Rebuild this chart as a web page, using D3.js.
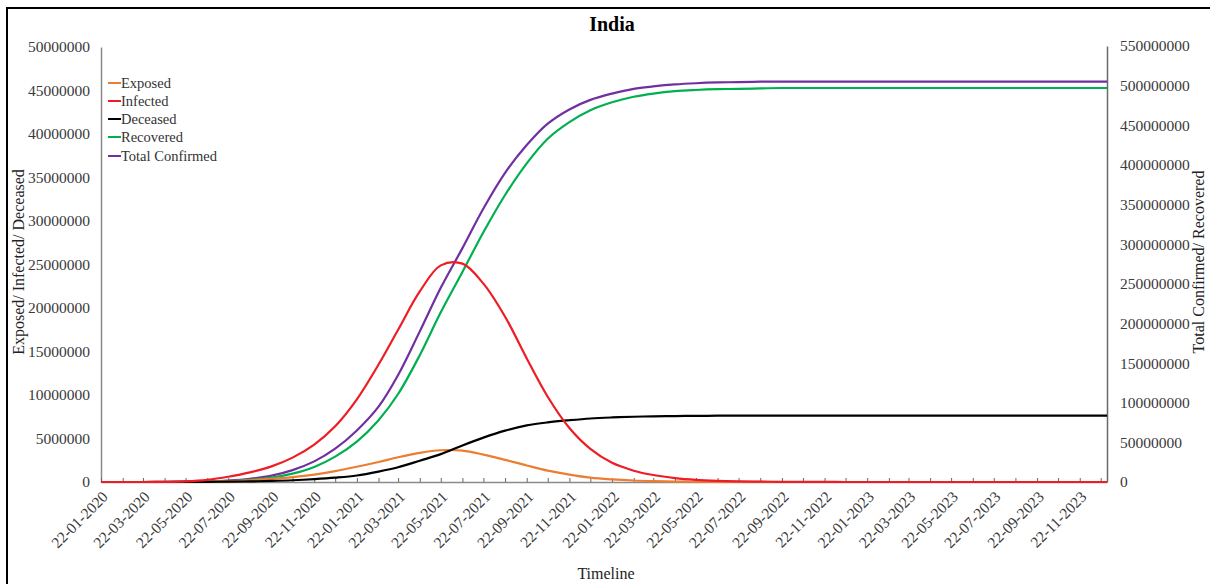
<!DOCTYPE html>
<html>
<head>
<meta charset="utf-8">
<script src="https://cdn.jsdelivr.net/npm/d3@7"></script>
<style>
  html, body { margin: 0; padding: 0; background: #fff; }
  svg text { font-family: "Liberation Serif", "Times New Roman", serif; }
</style>
</head>
<body>
<svg id="chart" width="1210" height="584"></svg>
<script>
// ---- data (values in millions) ----
const dates = [
  "2020-01-22","2020-02-22","2020-03-22","2020-04-22","2020-05-22","2020-06-22",
  "2020-07-22","2020-08-22","2020-09-22","2020-10-22","2020-11-22","2020-12-22",
  "2021-01-22","2021-02-22","2021-03-22","2021-04-22","2021-05-22","2021-06-22",
  "2021-07-22","2021-08-22","2021-09-22","2021-10-22","2021-11-22","2021-12-22",
  "2022-01-22","2022-02-22","2022-03-22","2022-04-22","2022-05-22","2022-06-22",
  "2022-07-22","2022-08-22","2022-09-22","2022-10-22","2022-11-22","2022-12-22",
  "2023-01-22","2023-02-22","2023-03-22","2023-04-22","2023-05-22","2023-06-22",
  "2023-07-22","2023-08-22","2023-09-22","2023-10-22","2023-11-22","2023-12-22",
  "2023-12-31"
];
const exposed = [
  0,0,0,0.01,0.02,0.05,0.1,0.2,0.35,0.55,0.85,1.25,
  1.75,2.3,2.85,3.35,3.65,3.6,3.15,2.55,1.9,1.3,0.85,0.5,
  0.3,0.17,0.1,0.05,0.03,0.02,0.01,0.01,0,0,0,0,
  0,0,0,0,0,0,0,0,0,0,0,0,0
];
const infected = [
  0,0,0,0.02,0.08,0.25,0.6,1.1,1.8,2.8,4.3,6.4,
  9.5,13.5,17.5,21.9,24.9,25.1,22.8,19.0,14.2,9.8,6.2,3.8,
  2.2,1.3,0.8,0.45,0.25,0.14,0.08,0.04,0.02,0.01,0.01,0,
  0,0,0,0,0,0,0,0,0,0,0,0,0
];
const deceased = [
  0,0,0,0,0.01,0.02,0.04,0.07,0.12,0.2,0.33,0.5,
  0.75,1.2,1.7,2.45,3.2,4.2,5.1,5.9,6.5,6.85,7.1,7.3,
  7.42,7.5,7.55,7.58,7.6,7.62,7.63,7.63,7.63,7.63,7.63,7.63,
  7.63,7.63,7.63,7.63,7.63,7.63,7.63,7.63,7.63,7.63,7.63,7.63,7.63
];
const recovered = [
  0,0,0,0,0.1,0.6,1.3,2.8,5.5,10.5,19,32,
  51,78,111,160,214,265,315,362,402,433,454,469,
  479,486,490,493,494.5,495.5,496,496.5,497,497,497,497,
  497,497,497,497,497,497,497,497,497,497,497,497,497
];
const confirmed = [
  0,0,0,0.1,0.3,0.8,1.8,4,8,15,26,42,
  65,95,135,190,245,295,345,390,425,452,470,482,
  490,496,499,501.5,503,504,504.5,505,505,505,505,505,
  505,505,505,505,505,505,505,505,505,505,505,505,505
];
const leftTicks = [0,5e6,10e6,15e6,20e6,25e6,30e6,35e6,40e6,45e6,50e6];
const rightTicks = [0,50e6,100e6,150e6,200e6,250e6,300e6,350e6,400e6,450e6,500e6,550e6];
const seriesNames = ["Exposed","Infected","Deceased","Recovered","Total Confirmed"];
const seriesColors = ["#ED7D31","#EE1C25","#000000","#00B050","#7030A0"];

// ---- layout ----
const svg = d3.select("#chart");
const parse = d3.timeParse("%Y-%m-%d");
const fmt = d3.timeFormat("%d-%m-%Y");
const D = dates.map(parse);

const x = d3.scaleTime().domain([D[0], D[D.length-1]]).range([101, 1107]);
const yL = d3.scaleLinear().domain([0, 50e6]).range([482, 47]);
const yR = d3.scaleLinear().domain([0, 550e6]).range([482, 46]);

// outer border (right and bottom edges fall outside the picture)
svg.append("rect").attr("x",7).attr("y",8).attr("width",1220).attr("height",600)
  .attr("fill","none").attr("stroke","#000").attr("stroke-width",2);

// title
svg.append("text").attr("x",612).attr("y",31).attr("text-anchor","middle")
  .attr("font-size",20).attr("font-weight","bold").attr("fill","#000").text("India");

// left axis
const gL = svg.append("g").attr("transform","translate(101,0)")
  .call(d3.axisLeft(yL).tickValues(leftTicks).tickFormat(d3.format("d")).tickSize(0).tickPadding(11));
gL.select(".domain").attr("stroke","#8a8a8a").attr("stroke-width",1.5);
gL.selectAll("text").attr("font-size",15.5).attr("fill","#3a3a3a")
  .style("font-family","'Liberation Serif', serif");

// right axis
const gR = svg.append("g").attr("transform","translate(1107,0)")
  .call(d3.axisRight(yR).tickValues(rightTicks).tickFormat(d3.format("d")).tickSize(0).tickPadding(13));
gR.select(".domain").attr("stroke","#6a6a6a").attr("stroke-width",1.5);
gR.selectAll("text").attr("font-size",15.5).attr("fill","#3a3a3a")
  .style("font-family","'Liberation Serif', serif");

// bottom axis with monthly ticks pointing inside
const gX = svg.append("g").attr("transform","translate(0,482)")
  .call(d3.axisBottom(x).tickValues(D.slice(0, D.length-1)).tickSizeInner(-4).tickSizeOuter(0).tickFormat(""));
gX.select(".domain").attr("stroke","#8a8a8a").attr("stroke-width",1.5);
gX.selectAll(".tick line").attr("stroke","#666").attr("stroke-width",1);

// rotated date labels every two months
const labelDates = D.slice(0, D.length-1).filter((d,i) => i % 2 === 0);
svg.append("g").selectAll("text").data(labelDates).join("text")
  .attr("transform", d => `translate(${x(d)+4},${494}) rotate(-45)`)
  .attr("text-anchor","end").attr("dy","0.35em")
  .attr("font-size",15.5).attr("fill","#3a3a3a")
  .text(d => fmt(d));

// axis titles
svg.append("text").attr("x",606).attr("y",579).attr("text-anchor","middle")
  .attr("font-size",16).attr("fill","#222").text("Timeline");
svg.append("text").attr("transform","translate(24,262) rotate(-90)").attr("text-anchor","middle")
  .attr("font-size",16).attr("fill","#222").text("Exposed/ Infected/ Deceased");
svg.append("text").attr("transform","translate(1204,262) rotate(-90)").attr("text-anchor","middle")
  .attr("font-size",16).attr("fill","#222").text("Total Confirmed/ Recovered");

// lines
const mk = (arr, scale) => d3.line().curve(d3.curveCatmullRom.alpha(0.5))
  .x((d,i) => x(D[i])).y(d => scale(Math.max(0, d) * 1e6))(arr);

const paths = [
  {data: confirmed, scale: yR, color: seriesColors[4]},
  {data: recovered, scale: yR, color: seriesColors[3]},
  {data: exposed, scale: yL, color: seriesColors[0]},
  {data: deceased, scale: yL, color: seriesColors[2]},
  {data: infected, scale: yL, color: seriesColors[1]}
];
svg.append("g").selectAll("path").data(paths).join("path")
  .attr("d", p => mk(p.data, p.scale))
  .attr("fill","none").attr("stroke", p => p.color).attr("stroke-width",2.2);

// legend
const legendY = [83, 101, 119, 137, 156];
const lg = svg.append("g");
seriesNames.forEach((n,i) => {
  lg.append("line").attr("x1",108).attr("x2",121).attr("y1",legendY[i]).attr("y2",legendY[i])
    .attr("stroke",seriesColors[i]).attr("stroke-width",2);
  lg.append("text").attr("x",121).attr("y",legendY[i]+5).attr("font-size",14.5)
    .attr("fill","#333").text(n);
});
</script>
</body>
</html>
